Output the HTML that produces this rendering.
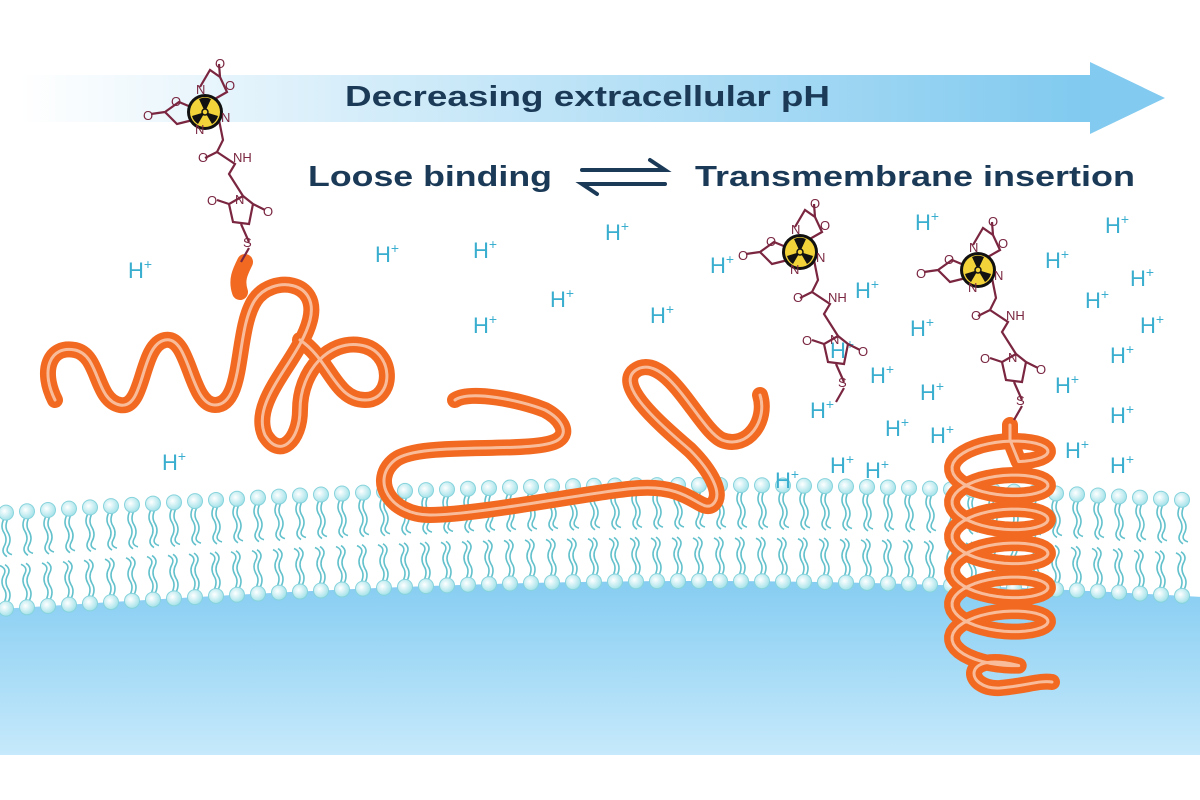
<!DOCTYPE html>
<html><head><meta charset="utf-8"><style>
html,body{margin:0;padding:0;background:#fff;width:1200px;height:800px;overflow:hidden}
svg{display:block}
</style></head><body>
<svg id="s" width="1200" height="800" viewBox="0 0 1200 800" xmlns="http://www.w3.org/2000/svg">
<defs>
<linearGradient id="ag" x1="0" x2="1" y1="0" y2="0"><stop offset="0" stop-color="#ffffff"/><stop offset="0.3" stop-color="#d7eefa"/><stop offset="1" stop-color="#7fc9ef"/></linearGradient>
<linearGradient id="bg" x1="0" x2="0" y1="0" y2="1"><stop offset="0" stop-color="#86cdf2"/><stop offset="1" stop-color="#c6e9fb"/></linearGradient>
<radialGradient id="hg" cx="0.4" cy="0.4" r="0.6"><stop offset="0" stop-color="#ffffff"/><stop offset="1" stop-color="#a6e3ea"/></radialGradient>
</defs>
<rect x="20" y="75" width="1080" height="47" fill="url(#ag)"/>
<polygon points="1090,62 1165,98 1090,134" fill="#82caef"/>
<g font-family="Liberation Sans, sans-serif" font-weight="bold" fill="#1b3a57" font-size="29">
<text x="345" y="106" textLength="485" lengthAdjust="spacingAndGlyphs">Decreasing extracellular pH</text>
<text x="308" y="186" textLength="244" lengthAdjust="spacingAndGlyphs">Loose binding</text>
<text x="695" y="186" textLength="440" lengthAdjust="spacingAndGlyphs">Transmembrane insertion</text>
</g>
<g stroke="#1b3a57" stroke-width="4" fill="none" stroke-linecap="round">
<path d="M582,170 H665 L650,160"/>
<path d="M665,184 H582 L597,194"/>
</g>
<g id="mem"></g>
<g id="hp" font-family="Liberation Sans, sans-serif" font-size="22" fill="#3aaecf"></g>
<g fill="none" stroke-linecap="round" stroke-linejoin="round">
<g stroke="#f26a21" stroke-width="16">
<path id="c1" d="M55,400 C40,370 50,345 75,350 C100,355 95,400 120,405 C145,410 140,345 165,340 C190,335 190,405 215,405 C245,405 235,330 255,300 C272,275 320,280 310,320 C300,360 250,400 265,435 C280,460 300,440 300,410 C300,370 330,340 360,345 C395,350 395,400 365,400 C335,400 330,360 300,340"/>
<path id="c1b" d="M245,262 C240,272 236,280 240,292"/>
<path id="c2" d="M455,400 C470,390 520,400 545,410 C560,418 570,432 558,440 C535,455 420,440 395,460 C370,480 390,515 430,515 C480,515 600,490 640,488 C690,485 700,512 712,505 C725,495 710,470 690,450 C655,420 610,380 640,368 C670,358 700,430 722,440 C748,450 768,420 760,395"/>
<path id="c3" d=""/>
</g>
<g stroke="#fff" stroke-width="3" opacity="0.55">
<use href="#c1"/><use href="#c2"/><use href="#c3"/>
</g>
</g>
<g id="mol" fill="none" stroke="#7a2640" stroke-width="2.2" font-family="Liberation Sans, sans-serif" font-size="13"></g>
<script>
var NS="http://www.w3.org/2000/svg";
function el(p,t,a,txt){var e=document.createElementNS(NS,t);for(var k in a)e.setAttribute(k,a[k]);if(txt)e.textContent=txt;p.appendChild(e);return e;}
var mem=document.getElementById("mem");
function ty(x){return 513-28*Math.sin(Math.PI*x/1400);}
var d="M0,"+(ty(0)+96);
for(var x=0;x<=1200;x+=20)d+=" L"+x+","+(ty(x)+96);
d+=" L1200,755 L0,755 Z";
el(mem,"path",{d:d,fill:"url(#bg)"});
for(var x=6;x<1200;x+=21){
 var y=ty(x);
 var w="M"+(x-2)+","+(y+6)+" q-4,8 0,14 q4,7 0,14 q-3,6 3,10 M"+(x+2)+","+(y+6)+" q-4,8 0,14 q4,7 0,14 q-3,6 4,8";
 el(mem,"path",{d:w,stroke:"#63c1cc","stroke-width":"1.6",fill:"none"});
 var yb=y+96;
 var w2="M"+(x-2)+","+(yb-6)+" q4,-8 0,-14 q-4,-7 0,-14 q3,-6 -4,-9 M"+(x+2)+","+(yb-6)+" q4,-8 0,-14 q-4,-7 0,-14 q3,-6 -3,-10";
 el(mem,"path",{d:w2,stroke:"#63c1cc","stroke-width":"1.6",fill:"none"});
 el(mem,"circle",{cx:x,cy:y,r:7.5,fill:"url(#hg)",stroke:"#86d3dc","stroke-width":"1"});
 el(mem,"circle",{cx:x,cy:yb,r:7.5,fill:"url(#hg)",stroke:"#86d3dc","stroke-width":"1"});
}
// helix
var hd="M1010,425 L1010,440";
var N=6,steps=N*40;
for(var i=0;i<=steps;i++){var t=i/40*2*Math.PI;var hx=1000+48*Math.sin(t+0.4);var hy=455+t*(34/(2*Math.PI))+18*Math.cos(t+0.4)-10;hd+=" L"+hx.toFixed(1)+","+hy.toFixed(1);}
hd+=" C960,650 965,690 1000,688 C1025,686 1040,680 1052,682";
document.getElementById("c3").setAttribute("d",hd);
var hp=document.getElementById("hp");
var H=[[128,278],[375,262],[473,258],[605,240],[550,307],[473,333],[650,323],[710,273],[855,298],[915,230],[1105,233],[1045,268],[1130,286],[1085,308],[1140,333],[910,336],[830,358],[870,383],[1110,363],[920,400],[810,418],[885,436],[930,443],[1055,393],[1110,423],[1065,458],[1110,473],[830,473],[775,488],[865,478],[162,470]];
H.forEach(function(p){var t=el(hp,"text",{x:p[0],y:p[1]},"H");el(t,"tspan",{dy:"-9","font-size":"14"},"+");});
var mol=document.getElementById("mol");
function molecule(cx,cy){
 var g=el(mol,"g",{transform:"translate("+cx+","+cy+")"});
 el(g,"path",{d:"M-5,-25 L5,-42 L15,-35 L22,-20 L8,-12 M15,-35 L14,-48 M-40,0 L-26,-10 L-14,-5 L-12,8 L-28,12 Z M-40,0 L-54,2 M-12,12 L12,10 M14,8 L18,28 L12,40 M12,40 L0,46 M12,40 L30,52 L24,62 L38,84 M38,84 L24,92 L28,110 L44,112 L48,92 Z M24,92 L12,88 M48,92 L60,98 M36,112 L44,130 M44,136 L36,150"});
 el(g,"circle",{cx:0,cy:0,r:18,fill:"#111",stroke:"none"});
 el(g,"circle",{cx:0,cy:0,r:15,fill:"#f2d33a",stroke:"none"});
 el(g,"path",{d:"M0,0 L-6,-13 A14,14 0 0 1 6,-13 Z M0,0 L13,4 A14,14 0 0 1 7,12 Z M0,0 L-7,12 A14,14 0 0 1 -13,4 Z",fill:"#111",stroke:"none"});
 el(g,"circle",{cx:0,cy:0,r:3,fill:"#f2d33a",stroke:"#111","stroke-width":"1.5"});
 var tx=function(x,y,s){el(g,"text",{x:x,y:y,fill:"#7a2640",stroke:"none"},s);};
 tx(-9,-18,"N");tx(-10,22,"N");tx(16,10,"N");tx(10,-44,"O");tx(20,-22,"O");tx(-34,-6,"O");tx(-62,8,"O");tx(-7,50,"O");tx(28,50,"NH");tx(30,92,"N");tx(2,93,"O");tx(58,104,"O");tx(38,135,"S");
}
molecule(205,112);molecule(800,252);molecule(978,270);
</script>
</svg>
</body></html>
